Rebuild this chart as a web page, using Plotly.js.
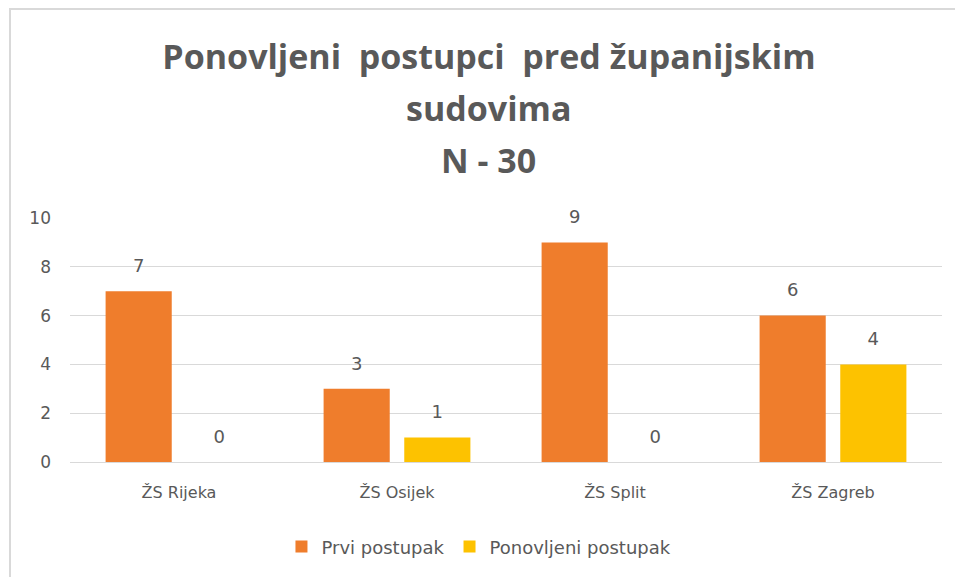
<!DOCTYPE html>
<html>
<head>
<meta charset="utf-8">
<script src="https://cdn.plot.ly/plotly-3.0.1.min.js"></script>
<style>
  html, body { margin: 0; padding: 0; background: #ffffff; }
  #chart { position: absolute; left: 0; top: 0; width: 955px; height: 577px; }
  #frame { position: absolute; left: 9px; top: 8px; width: 960px; height: 580px;
           border-left: 2px solid #d9d9d9; border-top: 2px solid #d9d9d9; pointer-events: none; }
</style>
</head>
<body>
<div id="chart"></div>
<div id="frame"></div>
<script>
const categories = ["ŽS Rijeka", "ŽS Osijek", "ŽS Split", "ŽS Zagreb"];
const prviPostupak = [7, 3, 9, 6];
const ponovljeniPostupak = [0, 1, 0, 4];
const seriesNames = ["Prvi postupak", "Ponovljeni postupak"];
const titleLines = ["Ponovljeni  postupci  pred županijskim", "sudovima", "N - 30"];
const yTicks = [0, 2, 4, 6, 8, 10];

const grey = "#595959";
const font = "'DejaVu Sans', sans-serif";
const titleFont = "'Open Sans', 'Noto Sans', sans-serif";
const colors = ["#ef7d2c", "#fdc200"];
const seriesValues = [prviPostupak, ponovljeniPostupak];

const traces = [];
seriesValues.forEach(function (vals, i) {
  traces.push({
    type: "bar", name: seriesNames[i], x: categories, y: vals,
    offsetgroup: "g" + i, marker: { color: colors[i] },
    hoverinfo: "skip"
  });
});
seriesValues.forEach(function (vals, i) {
  traces.push({
    type: "scatter", mode: "markers+text", x: categories, y: vals,
    offsetgroup: "g" + i, showlegend: false,
    text: vals.map(String), textposition: "top center", cliponaxis: false,
    marker: { size: 22, opacity: 0, color: colors[i] },
    textfont: { family: font, size: 18, color: grey },
    hoverinfo: "skip"
  });
});

const layout = {
  width: 955, height: 577,
  margin: { l: 70, r: 13, t: 218, b: 115 },
  paper_bgcolor: "#ffffff", plot_bgcolor: "#ffffff",
  font: { family: font, color: grey, size: 16 },
  title: {
    text: "<b>" + titleLines[0] + "</b>",
    font: { family: titleFont, size: 34, color: grey },
    xref: "container", x: 0.512, xanchor: "center",
    yref: "container", y: 1 - 57 / 577, yanchor: "middle"
  },
  annotations: [
    { text: "<b>" + titleLines[1] + "</b>", xref: "paper", yref: "paper",
      x: 0.4805, y: (462 - 108) / 244, showarrow: false, xanchor: "center", yanchor: "middle",
      font: { family: titleFont, size: 34, color: grey } },
    { text: "<b>" + titleLines[2] + "</b>", xref: "paper", yref: "paper",
      x: 0.4805, y: (462 - 160) / 244, showarrow: false, xanchor: "center", yanchor: "middle",
      font: { family: titleFont, size: 34, color: grey } }
  ],
  barmode: "group",
  bargap: 0.26,
  bargroupgap: 0.18,
  scattermode: "group",
  scattergap: 0.26,
  xaxis: {
    type: "category", showgrid: false, showline: false, zeroline: false,
    ticks: "", ticklabelstandoff: 19, tickfont: { family: font, size: 16, color: grey }
  },
  yaxis: {
    range: [0, 10], tickvals: yTicks, showgrid: true, gridcolor: "#d9d9d9", gridwidth: 1,
    zeroline: true, zerolinecolor: "#d9d9d9", zerolinewidth: 1,
    showline: false, ticks: "", ticklabelstandoff: 18,
    tickfont: { family: font, size: 17, color: grey }
  },
  showlegend: true,
  legend: {
    orientation: "h", xref: "paper", x: 0.469, xanchor: "center",
    yref: "paper", y: -0.348, yanchor: "middle",
    font: { family: font, size: 18, color: grey }, itemwidth: 30
  }
};

Plotly.newPlot("chart", traces, layout, { displayModeBar: false, staticPlot: true });
</script>
</body>
</html>
